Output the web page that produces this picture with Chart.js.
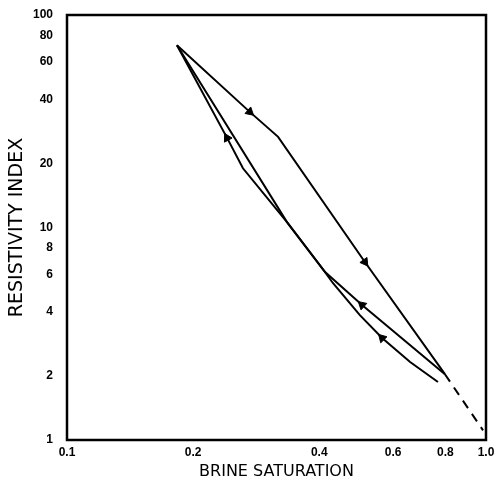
<!DOCTYPE html>
<html>
<head>
<meta charset="utf-8">
<script src="https://cdn.jsdelivr.net/npm/chart.js@4"></script>
<style>
  html, body { margin: 0; padding: 0; background: #fff; }
  #wrap { width: 496px; height: 481px; }
</style>
</head>
<body>
<div id="wrap"><canvas id="chart"></canvas></div>
<script>
// axis ticks
const xTicks = [0.1, 0.2, 0.4, 0.6, 0.8, 1.0];
const xTickLabels = ['0.1', '0.2', '0.4', '0.6', '0.8', '1.0'];
const yTicks = [1, 2, 4, 6, 8, 10, 20, 40, 60, 80, 100];
const yTickLabels = ['1', '2', '4', '6', '8', '10', '20', '40', '60', '80', '100'];

// upper branch (apex -> Sw 0.8)
const upperSw = [0.183, 0.273, 0.319, 0.514, 0.798];
const upperRI = [72, 35.0, 26.7, 6.88, 2.04];
const upperArrows = [1, 3];

// middle branch (Sw 0.8 -> apex)
const middleSw = [0.798, 0.506, 0.413, 0.335, 0.183];
const middleRI = [2.04, 4.32, 6.17, 10.6, 72];
const middleArrows = [1];

// lower branch (Sw 0.77 -> apex)
const lowerSw = [0.768, 0.659, 0.565, 0.500, 0.431, 0.413, 0.335, 0.263, 0.241, 0.183];
const lowerRI = [1.875, 2.33, 3.02, 3.87, 5.48, 6.17, 10.6, 19.0, 26.4, 72];
const lowerArrows = [2, 8];

// extrapolation to Sw = 1
const extraSw = [0.798, 0.984];
const extraRI = [2.04, 1.11];

const toPoints = (xs, ys) => xs.map((x, i) => ({ x: x, y: ys[i] }));

// point the arrowhead along the direction of travel
function arrowRotation(ctx) {
    const data = ctx.dataset.data;
    const i = ctx.dataIndex;
    const sx = ctx.chart.scales.x, sy = ctx.chart.scales.y;
    const a = data[i], b = data[Math.min(i + 1, data.length - 1)];
    const dx = sx.getPixelForValue(b.x) - sx.getPixelForValue(a.x);
    const dy = sy.getPixelForValue(b.y) - sy.getPixelForValue(a.y);
    return Math.atan2(dy, dx) * 180 / Math.PI + 90;
}

function branch(xs, ys, arrows) {
    return {
        data: toPoints(xs, ys),
        borderColor: '#000',
        backgroundColor: '#000',
        borderWidth: 2,
        showLine: true,
        tension: 0,
        pointStyle: 'triangle',
        pointRadius: ctx => arrows.includes(ctx.dataIndex) ? 5 : 0,
        pointRotation: arrowRotation,
        pointBorderWidth: 1
    };
}

const frame = {
    id: 'frame',
    afterDraw(chart) {
        const { ctx, chartArea: a } = chart;
        ctx.save();
        ctx.strokeStyle = '#000';
        ctx.lineWidth = 2.5;
        ctx.strokeRect(a.left, a.top, a.right - a.left, a.bottom - a.top);
        ctx.restore();
    }
};

const tickFont = { family: 'Liberation Sans', size: 12, weight: 'bold' };

new Chart(document.getElementById('chart'), {
    type: 'scatter',
    data: {
        datasets: [
            branch(upperSw, upperRI, upperArrows),
            branch(middleSw, middleRI, middleArrows),
            branch(lowerSw, lowerRI, lowerArrows),
            {
                data: toPoints(extraSw, extraRI),
                borderColor: '#000',
                borderWidth: 2,
                borderDash: [9, 7],
                showLine: true,
                pointRadius: 0
            }
        ]
    },
    options: {
        responsive: true,
        maintainAspectRatio: false,
        animation: false,
        layout: { padding: { top: 15, right: 10, left: 0, bottom: 0 } },
        plugins: { legend: { display: false }, tooltip: { enabled: false } },
        scales: {
            x: {
                type: 'logarithmic',
                min: 0.1,
                max: 1.0,
                afterBuildTicks: s => { s.ticks = xTicks.map(v => ({ value: v })); },
                afterFit: s => { s.height = 41; },
                grid: { display: false },
                border: { display: false },
                ticks: {
                    color: '#000',
                    font: tickFont,
                    padding: -3,
                    maxRotation: 0,
                    autoSkip: false,
                    callback: v => xTickLabels[xTicks.indexOf(v)]
                },
                title: {
                    display: true,
                    text: 'BRINE SATURATION',
                    color: '#000',
                    font: { family: 'DejaVu Sans', size: 16 },
                    padding: { top: 0, bottom: 0 }
                }
            },
            y: {
                type: 'logarithmic',
                min: 1,
                max: 100,
                afterBuildTicks: s => { s.ticks = yTicks.map(v => ({ value: v })); },
                afterFit: s => { s.width = 67; },
                grid: { display: false },
                border: { display: false },
                ticks: {
                    color: '#000',
                    font: tickFont,
                    padding: 6,
                    autoSkip: false,
                    callback: v => yTickLabels[yTicks.indexOf(v)]
                },
                title: {
                    display: true,
                    text: 'RESISTIVITY INDEX',
                    color: '#000',
                    font: { family: 'DejaVu Sans', size: 19 },
                    padding: { top: 6, bottom: 0 }
                }
            }
        }
    },
    plugins: [frame]
});
</script>
</body>
</html>
